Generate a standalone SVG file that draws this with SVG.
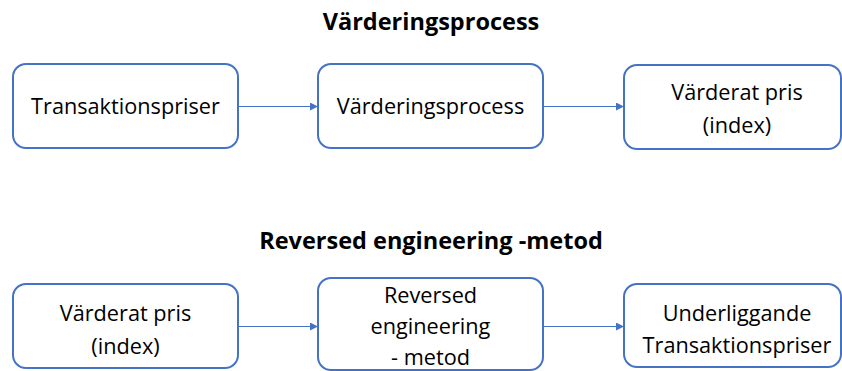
<svg xmlns="http://www.w3.org/2000/svg" width="842" height="371" viewBox="0 0 842 371">
<style>
.box{fill:#fff;stroke:#4472C4;stroke-width:2}
.t{font-family:"Open Sans","Liberation Sans",sans-serif;font-size:21.7px;fill:#000;text-anchor:middle}
.h{font-family:"Open Sans","Liberation Sans",sans-serif;font-size:23.5px;font-weight:bold;fill:#000;text-anchor:middle}
.c{stroke:#4472C4;stroke-width:1;fill:none}
</style>
<defs>
<marker id="a" markerWidth="8" markerHeight="8" refX="8" refY="4" orient="auto" markerUnits="userSpaceOnUse">
<path d="M0,0 L8,4 L0,8 z" fill="#4472C4"/>
</marker>
</defs>
<rect width="842" height="371" fill="#fff"/>
<text class="h" x="431" y="30">Värderingsprocess</text>
<text class="h" x="431" y="249">Reversed engineering -metod</text>
<g id="connectors">
<line class="c" x1="238" y1="106.5" x2="318" y2="106.5" marker-end="url(#a)"/>
<line class="c" x1="543" y1="106.5" x2="624" y2="106.5" marker-end="url(#a)"/>
<line class="c" x1="238" y1="326.5" x2="318" y2="326.5" marker-end="url(#a)"/>
<line class="c" x1="543" y1="326.5" x2="624" y2="326.5" marker-end="url(#a)"/>
</g>
<g id="n1"><rect class="box" x="13" y="64" width="225" height="84" rx="13"/><text class="t" x="125.5" y="114">Transaktionspriser</text></g>
<g id="n2"><rect class="box" x="318" y="64" width="225" height="84" rx="13"/><text class="t" x="430.5" y="114">Värderingsprocess</text></g>
<g id="n3"><rect class="box" x="624" y="65" width="217" height="84" rx="13"/><text class="t" x="737" y="100">Värderat pris</text><text class="t" x="737" y="133">(index)</text></g>
<g id="n4"><rect class="box" x="13" y="284" width="225" height="84" rx="13"/><text class="t" x="125.5" y="321">Värderat pris</text><text class="t" x="125.5" y="354">(index)</text></g>
<g id="n5"><rect class="box" x="318" y="278" width="225" height="92" rx="13"/><text class="t" x="430.5" y="303">Reversed</text><text class="t" x="430.5" y="334">engineering</text><text class="t" x="430.5" y="365">- metod</text></g>
<g id="n6"><rect class="box" x="624" y="284" width="217" height="83" rx="13"/><text class="t" x="737" y="321">Underliggande</text><text class="t" x="737" y="353">Transaktionspriser</text></g>
</svg>
